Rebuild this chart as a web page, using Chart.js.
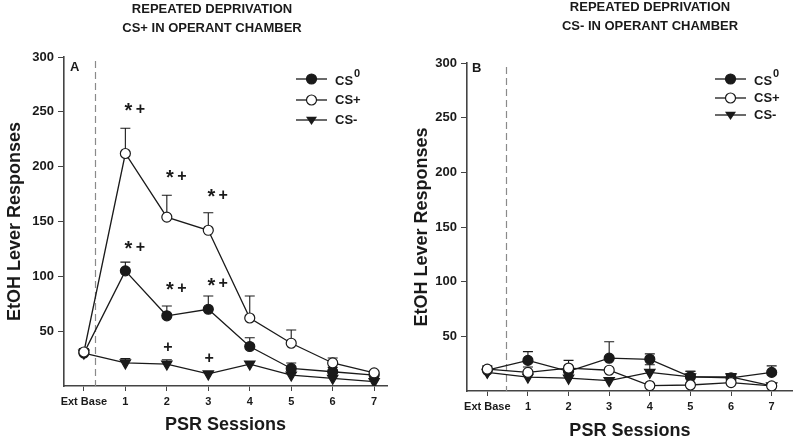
<!DOCTYPE html>
<html>
<head>
<meta charset="utf-8">
<script src="https://cdn.jsdelivr.net/npm/chart.js@4/dist/chart.umd.min.js"></script>
<style>
  html, body { margin: 0; padding: 0; background: #fff; }
  #wrap { position: relative; width: 800px; height: 443px; overflow: hidden; }
  canvas { position: absolute; top: 0; }
</style>
</head>
<body>
<div id="wrap">
  <canvas id="panelA" width="400" height="443" style="left:0"></canvas>
  <canvas id="panelB" width="400" height="443" style="left:400px"></canvas>
</div>
<script>
// sessions (x positions 0..7)
const sessionLabels = ['Ext Base', '1', '2', '3', '4', '5', '6', '7'];
const sessionX = [0, 1, 2, 3, 4, 5, 6, 7];

// panel A: CS+ in operant chamber
const aCS0 = [30, 105, 64, 70, 36, 16, 13, 10];
const aCS0Err = [4, 8, 9, 12, 8, 5, 4, 2];
const aCSplus = [31, 212, 154, 142, 62, 39, 21, 12];
const aCSplusErr = [3, 23, 20, 16, 20, 12, 4.5, 1.5];
const aCSminus = [30, 21, 20, 11, 20, 10, 7, 4];
const aCSminusErr = [3, 4, 4, 0, 0, 0, 0, 0];

// panel B: CS- in operant chamber
const bCS0 = [19, 28, 18, 30, 29, 13, 12, 17];
const bCS0Err = [3, 8, 0, 15, 5, 5, 3, 6];
const bCSplus = [20, 17, 21, 19, 5, 5.5, 7.7, 4.6];
const bCSplusErr = [3, 5, 7, 0, 0, 0, 0, 0];
const bCSminus = [17, 12.7, 11.7, 9.5, 17, 13, 13, 4.6];
const bCSminusErr = [0, 0, 0, 0, 7, 5, 3, 0];

// significance marks on panel A (star = vs CS-, plus = vs baseline)
const markX = [1, 2, 3, 1, 2, 3, 2, 3];
const markY = [252, 191, 174, 126, 89, 93, 35, 24.6];
const markStar = [true, true, true, true, true, true, false, false];

const yTicks = [50, 100, 150, 200, 250, 300];

const FONT = '"Liberation Sans", Arial, Helvetica, sans-serif';
const INK = '#1a1a1a';

function drawMarker(ctx, style, x, y) {
    ctx.save();
    ctx.lineWidth = 1.2;
    ctx.strokeStyle = INK;
    if (style === 'tri') {
        const r = 5.5;
        ctx.beginPath();
        ctx.moveTo(x - r, y - r * 0.6);
        ctx.lineTo(x + r, y - r * 0.6);
        ctx.lineTo(x, y + r * 0.9);
        ctx.closePath();
        ctx.fillStyle = INK;
        ctx.fill();
    } else {
        ctx.beginPath();
        ctx.arc(x, y, 5, 0, Math.PI * 2);
        ctx.fillStyle = style === 'open' ? '#fff' : INK;
        ctx.fill();
        ctx.stroke();
    }
    ctx.restore();
}

// dashed separator, error bars, titles, legend and marks
const extrasPlugin = {
    id: 'extras',
    beforeDatasetsDraw(chart, args, opts) {
        const ctx = chart.ctx;
        const xs = chart.scales.x, ys = chart.scales.y;
        const area = chart.chartArea;

        // dashed line after extinction baseline
        ctx.save();
        ctx.strokeStyle = '#8a8a8a';
        ctx.lineWidth = 1.2;
        ctx.setLineDash([7, 4]);
        const dx = Math.round(xs.getPixelForValue(opts.dashX)) + 0.5;
        ctx.beginPath();
        ctx.moveTo(dx, area.top + 4);
        ctx.lineTo(dx, area.bottom);
        ctx.stroke();
        ctx.restore();

        // upper error bars
        ctx.save();
        ctx.strokeStyle = INK;
        ctx.lineWidth = 1.1;
        chart.data.datasets.forEach((ds) => {
            ds.data.forEach((pt, i) => {
                const e = ds.err[i];
                if (!e) return;
                const px = xs.getPixelForValue(pt.x);
                const py = ys.getPixelForValue(pt.y);
                const ty = ys.getPixelForValue(pt.y + e);
                ctx.beginPath();
                ctx.moveTo(px, py);
                ctx.lineTo(px, ty);
                ctx.moveTo(px - 5, ty);
                ctx.lineTo(px + 5, ty);
                ctx.stroke();
            });
        });
        ctx.restore();
    },
    afterDraw(chart, args, opts) {
        const ctx = chart.ctx;
        const xs = chart.scales.x, ys = chart.scales.y;
        ctx.save();
        ctx.fillStyle = INK;
        ctx.textBaseline = 'middle';

        // heading
        ctx.font = 'bold 13px ' + FONT;
        ctx.textAlign = 'center';
        ctx.fillText(opts.heading[0], opts.headingX, opts.headingY);
        ctx.fillText(opts.heading[1], opts.headingX, opts.headingY + 19);

        // panel letter
        ctx.textAlign = 'left';
        ctx.fillText(opts.letter, opts.letterX, opts.letterY);

        // legend
        const lx = opts.legendX;
        chart.data.datasets.slice().sort((a, b) => a.legendRank - b.legendRank).forEach((ds, k) => {
            const ly = opts.legendY[k];
            ctx.save();
            ctx.strokeStyle = INK;
            ctx.lineWidth = 1.3;
            ctx.beginPath();
            ctx.moveTo(lx, ly);
            ctx.lineTo(lx + 31, ly);
            ctx.stroke();
            ctx.restore();
            drawMarker(ctx, ds.marker, lx + 15.5, ly);
            ctx.font = 'bold 13px ' + FONT;
            ctx.textAlign = 'left';
            if (ds.label === 'CS0') {
                ctx.fillText('CS', lx + 39, ly + 2);
                const w = ctx.measureText('CS').width;
                ctx.font = 'bold 11px ' + FONT;
                ctx.fillText('0', lx + 39 + w + 1, ly - 5);
            } else {
                ctx.fillText(ds.label, lx + 39, ly);
            }
        });

        // significance marks
        if (opts.marks) {
            ctx.textAlign = 'center';
            opts.marks.x.forEach((mx, i) => {
                const px = xs.getPixelForValue(mx);
                const py = ys.getPixelForValue(opts.marks.y[i]);
                ctx.font = 'bold 16px ' + FONT;
                if (opts.marks.star[i]) {
                    ctx.fillText('+', px + 15, py);
                    ctx.font = 'bold 20px ' + FONT;
                    ctx.fillText('*', px + 3, py + 2);
                } else {
                    ctx.fillText('+', px + 1, py);
                }
            });
        }
        ctx.restore();
    }
};

function toPoints(values) {
    return values.map((v, i) => ({ x: sessionX[i], y: v }));
}

function makePanel(canvasId, series, cfg) {
    const lineCommon = {
        borderColor: INK,
        borderWidth: 1.3,
        pointBorderColor: INK,
        pointBorderWidth: 1.2,
        tension: 0
    };
    // first dataset is drawn on top
    const datasets = [
        Object.assign({}, lineCommon, {
            label: 'CS+', data: toPoints(series.plus), err: series.plusErr,
            marker: 'open', legendRank: 1,
            pointStyle: 'circle', pointRadius: 5, pointBackgroundColor: '#fff'
        }),
        Object.assign({}, lineCommon, {
            label: 'CS0', data: toPoints(series.zero), err: series.zeroErr,
            marker: 'filled', legendRank: 0,
            pointStyle: 'circle', pointRadius: 5, pointBackgroundColor: INK
        }),
        Object.assign({}, lineCommon, {
            label: 'CS-', data: toPoints(series.minus), err: series.minusErr,
            marker: 'tri', legendRank: 2,
            pointStyle: 'triangle', pointRotation: 180, pointRadius: 6, pointBackgroundColor: INK
        })
    ];

    new Chart(document.getElementById(canvasId), {
        type: 'line',
        data: { datasets: datasets },
        options: {
            responsive: false,
            devicePixelRatio: 1,
            animation: false,
            layout: { padding: { left: cfg.padLeft, right: cfg.padRight, top: cfg.padTop, bottom: 0 } },
            plugins: {
                legend: { display: false },
                tooltip: { enabled: false },
                extras: cfg.extras
            },
            scales: {
                x: {
                    type: 'linear',
                    min: cfg.xMin,
                    max: cfg.xMax,
                    afterBuildTicks: (axis) => { axis.ticks = sessionX.map(v => ({ value: v })); },
                    afterFit: (axis) => { axis.height = cfg.xHeight; },
                    ticks: {
                        callback: (v) => sessionLabels[v],
                        color: INK,
                        font: { family: FONT, size: 11, weight: 'bold' },
                        padding: 4,
                        maxRotation: 0,
                        autoSkip: false
                    },
                    grid: { drawOnChartArea: false, drawTicks: true, tickLength: 5, tickColor: '#444' },
                    border: { display: true, color: '#444', width: 1.6 },
                    title: {
                        display: true,
                        text: 'PSR Sessions',
                        color: INK,
                        font: { family: FONT, size: 18, weight: 'bold' },
                        padding: { top: 4, bottom: cfg.xTitlePad }
                    }
                },
                y: {
                    min: 0,
                    max: 300,
                    afterBuildTicks: (axis) => { axis.ticks = yTicks.map(v => ({ value: v })); },
                    afterFit: (axis) => { axis.width = cfg.yWidth; },
                    ticks: {
                        color: INK,
                        font: { family: FONT, size: 13, weight: 'bold' },
                        padding: 4
                    },
                    grid: { drawOnChartArea: false, drawTicks: true, tickLength: 6, tickColor: '#444' },
                    border: { display: true, color: '#444', width: 1.6 },
                    title: {
                        display: true,
                        text: 'EtOH Lever Responses',
                        color: INK,
                        font: { family: FONT, size: 18, weight: 'bold' },
                        padding: { top: 4, bottom: 4 }
                    }
                }
            }
        },
        plugins: [extrasPlugin]
    });
}

makePanel('panelA',
    { zero: aCS0, zeroErr: aCS0Err, plus: aCSplus, plusErr: aCSplusErr, minus: aCSminus, minusErr: aCSminusErr },
    {
        padLeft: 0, padRight: 13, padTop: 57, yWidth: 64, xHeight: 57, xTitlePad: 7,
        xMin: -0.48, xMax: 7.31,
        extras: {
            heading: ['REPEATED DEPRIVATION', 'CS+ IN OPERANT CHAMBER'],
            headingX: 212, headingY: 9,
            letter: 'A', letterX: 70, letterY: 67,
            dashX: 0.265,
            legendX: 296, legendY: [79, 100, 120],
            marks: { x: markX, y: markY, star: markStar }
        }
    });

makePanel('panelB',
    { zero: bCS0, zeroErr: bCS0Err, plus: bCSplus, plusErr: bCSplusErr, minus: bCSminus, minusErr: bCSminusErr },
    {
        padLeft: 7, padRight: 2, padTop: 63, yWidth: 60, xHeight: 52, xTitlePad: 1,
        xMin: -0.5, xMax: 7.52,
        extras: {
            heading: ['REPEATED DEPRIVATION', 'CS- IN OPERANT CHAMBER'],
            headingX: 250, headingY: 7,
            letter: 'B', letterX: 72, letterY: 68,
            dashX: 0.45,
            legendX: 315, legendY: [79, 98, 115],
            marks: null
        }
    });
</script>
</body>
</html>
